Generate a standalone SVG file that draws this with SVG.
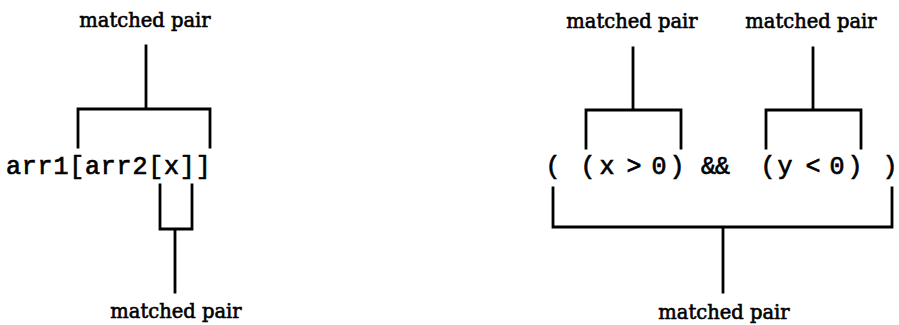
<svg xmlns="http://www.w3.org/2000/svg" width="899" height="325" viewBox="0 0 899 325">
<style>
  .lbl { font-family: "DejaVu Serif", "Liberation Serif", serif; font-size: 19.5px; fill: #000; stroke: #000; stroke-width: 0.6; text-anchor: middle; }
  .code { font-family: "Liberation Mono", "Courier New", monospace; font-size: 25px; fill: #000; stroke: #000; stroke-width: 0.7; }
  .tok { font-family: "Liberation Mono", "Courier New", monospace; font-size: 25px; fill: #000; stroke: #000; stroke-width: 0.7; text-anchor: middle; }
  .br { fill: none; stroke: #000; stroke-width: 2.8; stroke-linejoin: miter; stroke-linecap: square; }
</style>
<rect width="899" height="325" fill="#fff"/>
<g id="left-expr">
  <text class="code" x="6" y="174" letter-spacing="0.8">arr1[arr2[x]]</text>
</g>
<g id="left-top-label"><text class="lbl" x="145" y="27">matched pair</text></g>
<g id="left-bottom-label"><text class="lbl" x="176" y="318">matched pair</text></g>
<g id="right-expr">
  <text class="tok" x="553" y="174">(</text>
  <text class="tok" x="588" y="174">(</text>
  <text class="tok" x="607" y="174">x</text>
  <text class="tok" x="634" y="174">&gt;</text>
  <text class="tok" x="659" y="174">0</text>
  <text class="tok" x="677" y="174">)</text>
  <text class="tok" x="715" y="174" letter-spacing="-1">&amp;&amp;</text>
  <text class="tok" x="768" y="174">(</text>
  <text class="tok" x="785" y="174">y</text>
  <text class="tok" x="813" y="174">&lt;</text>
  <text class="tok" x="837" y="174">0</text>
  <text class="tok" x="855" y="174">)</text>
  <text class="tok" x="890" y="174">)</text>
</g>
<g id="right-top-label-1"><text class="lbl" x="632" y="28">matched pair</text></g>
<g id="right-top-label-2"><text class="lbl" x="811" y="28">matched pair</text></g>
<g id="right-bottom-label"><text class="lbl" x="724" y="319">matched pair</text></g>
<g id="connectors">
  <path class="br" d="M146 46 V109 M78 147 V109 H210 V147"/>
  <path class="br" d="M160 185 V229 H192 V185 M175 229 V292"/>
  <path class="br" d="M633 48 V110 M586 148 V110 H681 V148"/>
  <path class="br" d="M813 48 V110 M766 148 V110 H861 V148"/>
  <path class="br" d="M553 188 V227 H892 V188 M723 227 V292"/>
</g>
</svg>
